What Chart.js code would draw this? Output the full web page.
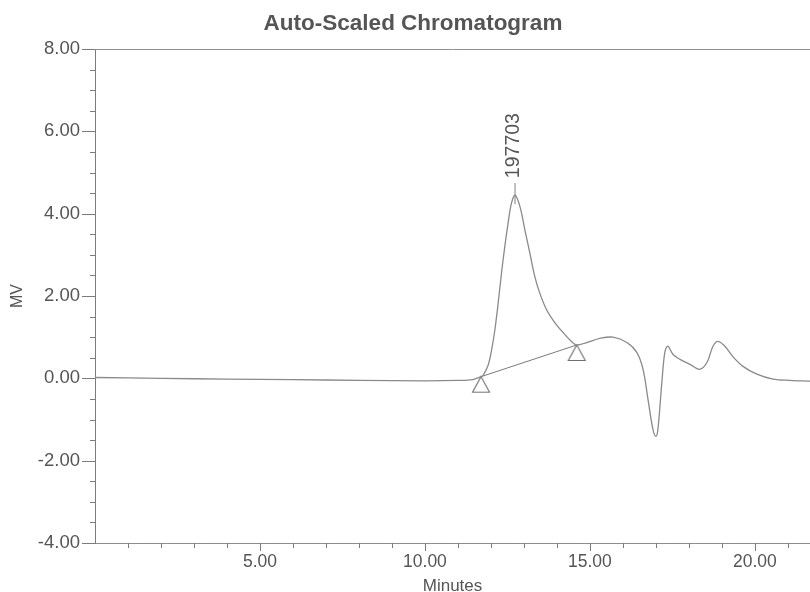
<!DOCTYPE html>
<html>
<head>
<meta charset="utf-8">
<title>Auto-Scaled Chromatogram</title>
<script src="https://cdn.jsdelivr.net/npm/chart.js@4/dist/chart.umd.min.js"></script>
<style>
  html, body { margin: 0; padding: 0; background: #fff; }
  #wrap { width: 810px; height: 592px; }
</style>
</head>
<body>
<div id="wrap"><canvas id="chart" width="810" height="592"></canvas></div>
<script>
// Labels
const titleText = 'Auto-Scaled Chromatogram';
const xAxisTitle = 'Minutes';
const yAxisTitle = 'MV';
const peakLabel = '197703';

// Axis ranges (minutes, MV) and labelled tick values
const xRange = [0, 21.67];
const yRange = [-4, 8];
const xTickValues = [5, 10, 15, 20];
const yTickValues = [-4, -2, 0, 2, 4, 6, 8];

// Detector trace: retention time (min) and signal (MV)
const times = [
  0, 2, 4, 6, 8, 10, 11, 11.45,
  11.70, 11.77, 11.92, 12.02, 12.12, 12.22, 12.32, 12.42,
  12.52, 12.62, 12.73, 12.88, 13.03, 13.18, 13.33, 13.48,
  13.69, 13.94, 14.19, 14.45, 14.60,
  14.90, 15.30, 15.70, 16.12, 16.42, 16.61, 16.76, 16.91,
  17.00, 17.06, 17.18, 17.27, 17.36, 17.52, 17.73, 18.03,
  18.33, 18.55, 18.73, 18.88, 19.09, 19.33, 19.64, 20.06,
  20.55, 21.06, 21.67
];
const signal = [
  0.02, 0.00, -0.02, -0.03, -0.05, -0.06, -0.05, -0.03,
  0.04, 0.08, 0.33, 0.69, 1.18, 1.83, 2.56, 3.20,
  3.77, 4.25, 4.45, 4.17, 3.60, 3.04, 2.47, 2.07,
  1.66, 1.35, 1.11, 0.89, 0.81,
  0.87, 0.97, 1.00, 0.87, 0.63, 0.22, -0.51, -1.24,
  -1.41, -1.24, -0.10, 0.63, 0.78, 0.58, 0.46, 0.34,
  0.22, 0.39, 0.78, 0.90, 0.78, 0.53, 0.29, 0.10,
  -0.02, -0.05, -0.07
];

// Integration start / end markers (drop baseline)
const markerTimes = [11.70, 14.60];
const markerValues = [0.04, 0.81];

const inkText = '#555555';
const inkLine = '#8a8a8a';
const inkAxis = '#7c7c7c';
const fontFamily = "'Liberation Sans', Arial, sans-serif";

// Hollow triangle whose apex sits on the marker point
function makeTriangle() {
  const c = document.createElement('canvas');
  c.width = 22; c.height = 36;
  const g = c.getContext('2d');
  g.strokeStyle = '#707070';
  g.lineWidth = 1.1;
  g.beginPath();
  g.moveTo(11, 18);
  g.lineTo(19.5, 33.5);
  g.lineTo(2.5, 33.5);
  g.closePath();
  g.stroke();
  return c;
}

const tracePoints = times.map((t, i) => ({ x: t, y: signal[i] }));
const markerPoints = markerTimes.map((t, i) => ({ x: t, y: markerValues[i] }));

// Title, frame line, tick marks and the peak annotation
const decorations = {
  id: 'decorations',
  afterDraw(chart) {
    const { ctx, chartArea, scales } = chart;
    const xs = scales.x, ys = scales.y;
    ctx.save();

    // title
    ctx.fillStyle = inkText;
    ctx.font = 'bold 22.5px ' + fontFamily;
    ctx.textAlign = 'center';
    ctx.textBaseline = 'middle';
    ctx.fillText(titleText, 413, 24);

    // top frame line
    ctx.strokeStyle = '#8c8e9a';
    ctx.lineWidth = 1;
    ctx.beginPath();
    ctx.moveTo(chartArea.left, chartArea.top + 0.5);
    ctx.lineTo(chartArea.right, chartArea.top + 0.5);
    ctx.stroke();

    // x ticks: every minute, longer at every 5
    ctx.strokeStyle = inkAxis;
    ctx.beginPath();
    for (let m = 1; m <= Math.floor(xRange[1]); m++) {
      const px = Math.round(xs.getPixelForValue(m)) + 0.5;
      const len = (m % 5 === 0) ? 8 : 5;
      ctx.moveTo(px, chartArea.bottom);
      ctx.lineTo(px, chartArea.bottom + len);
    }
    // y ticks: every 0.5 MV, longer at labelled values
    for (let v = yRange[0]; v <= yRange[1] + 1e-9; v += 0.5) {
      const py = Math.round(ys.getPixelForValue(v)) + 0.5;
      const major = Math.abs(v / 2 - Math.round(v / 2)) < 1e-9;
      const len = major ? 13 : 5;
      ctx.moveTo(chartArea.left, py);
      ctx.lineTo(chartArea.left - len, py);
    }
    ctx.stroke();

    // peak annotation
    let iMax = 0;
    signal.forEach((v, i) => { if (v > signal[iMax]) iMax = i; });
    const px = xs.getPixelForValue(times[iMax]);
    const py = ys.getPixelForValue(signal[iMax]);
    ctx.strokeStyle = '#808080';
    ctx.beginPath();
    ctx.moveTo(px, py + 9);
    ctx.lineTo(px, py - 12);
    ctx.stroke();
    ctx.translate(px - 1, py - 17);
    ctx.rotate(-Math.PI / 2);
    ctx.fillStyle = inkText;
    ctx.font = '19.5px ' + fontFamily;
    ctx.textAlign = 'left';
    ctx.textBaseline = 'middle';
    ctx.fillText(peakLabel, 0, 0);
    ctx.restore();
  }
};

new Chart(document.getElementById('chart'), {
  type: 'line',
  data: {
    datasets: [
      {
        data: tracePoints,
        borderColor: inkLine,
        borderWidth: 1.3,
        pointRadius: 0,
        tension: 0.35,
        fill: false
      },
      {
        data: markerPoints,
        borderColor: '#7a7a7a',
        borderWidth: 1,
        pointStyle: makeTriangle(),
        pointRadius: 4,
        tension: 0,
        fill: false
      }
    ]
  },
  options: {
    responsive: false,
    animation: false,
    layout: { autoPadding: false, padding: { top: 49, left: 0, right: 0, bottom: 0 } },
    plugins: {
      legend: { display: false },
      tooltip: { enabled: false },
      title: { display: false }
    },
    scales: {
      x: {
        type: 'linear',
        min: xRange[0],
        max: xRange[1],
        afterBuildTicks(scale) { scale.ticks = xTickValues.map(v => ({ value: v })); },
        afterFit(scale) { scale.height = 49; scale.paddingRight = 0; },
        grid: { display: true, drawOnChartArea: false, drawTicks: true, tickLength: 7, tickColor: 'rgba(0,0,0,0)' },
        border: { display: true, color: '#8a8c96', width: 1 },
        ticks: {
          autoSkip: false,
          maxRotation: 0,
          padding: 2,
          color: inkText,
          font: { family: fontFamily, size: 17.5 },
          callback: (v) => Number(v).toFixed(2)
        },
        title: {
          display: true,
          text: xAxisTitle,
          color: inkText,
          font: { family: fontFamily, size: 17, lineHeight: 0.7 },
          padding: 0
        }
      },
      y: {
        type: 'linear',
        min: yRange[0],
        max: yRange[1],
        afterBuildTicks(scale) { scale.ticks = yTickValues.map(v => ({ value: v })); },
        afterFit(scale) { scale.width = 95; },
        grid: { display: true, drawOnChartArea: false, drawTicks: true, tickLength: 13, tickColor: 'rgba(0,0,0,0)' },
        border: { display: true, color: inkAxis, width: 1 },
        ticks: {
          padding: 2,
          color: inkText,
          font: { family: fontFamily, size: 18.5 },
          callback: (v) => Number(v).toFixed(2)
        },
        title: {
          display: true,
          text: yAxisTitle,
          color: inkText,
          font: { family: fontFamily, size: 16 },
          padding: 8
        }
      }
    }
  },
  plugins: [decorations]
});
</script>
</body>
</html>
